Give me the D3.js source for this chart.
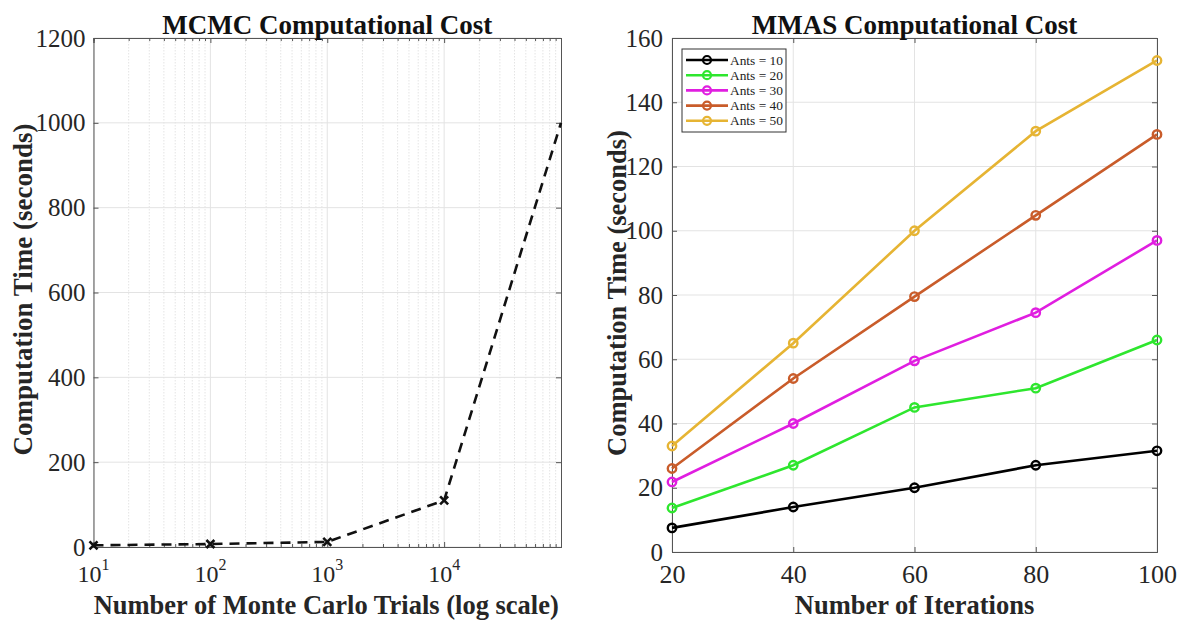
<!DOCTYPE html>
<html>
<head>
<meta charset="utf-8">
<script src="https://cdn.jsdelivr.net/npm/d3@7"></script>
<style>
  body { margin: 0; background: #fff; }
  svg text { font-family: "Liberation Serif", "Times New Roman", serif; }
</style>
</head>
<body>
<svg id="chart" width="1184" height="623"></svg>
<script>
// MCMC: Monte Carlo trials vs. computation time
const mcmcTrials = [10, 100, 1000, 10000, 100000];
const mcmcTime = [4, 7, 12, 110, 1000];
const mcmcYTicks = [0, 200, 400, 600, 800, 1000, 1200];
const mcmcXTicks = [10, 100, 1000, 10000];

// MMAS: iterations vs. computation time for several colony sizes
const iterations = [20, 40, 60, 80, 100];
const antCounts = [10, 20, 30, 40, 50];
const ants10 = [7.5, 14, 20, 27, 31.5];
const ants20 = [13.7, 27, 45, 51, 66];
const ants30 = [21.8, 40, 59.5, 74.5, 97];
const ants40 = [26, 54, 79.5, 104.8, 130];
const ants50 = [33, 65, 100, 131, 153];
const antColors = ["#000000", "#2ee62e", "#e01ee0", "#c95c2a", "#e6b433"];
const mmasYTicks = [0, 20, 40, 60, 80, 100, 120, 140, 160];

const svg = d3.select("#chart");
const serif = '"Liberation Serif", "Times New Roman", serif';
const tickColor = "#262626";
const gridColor = "#e3e3e3";

function styleAxis(g, size) {
  g.attr("font-family", serif);
  g.selectAll("path").attr("stroke", "#555").attr("stroke-width", 1);
  g.selectAll("line").attr("stroke", "#555");
  g.selectAll("text").attr("fill", tickColor).style("font-size", (size || 25) + "px")
    .style("font-family", serif);
}

// ---------- Left panel ----------
const L = { left: 93.5, right: 561, top: 38, bottom: 547 };
const xL = d3.scaleLog().domain([10, 100000]).range([L.left, L.right]);
const yL = d3.scaleLinear().domain([0, 1200]).range([L.bottom, L.top]);
const gL = svg.append("g");

// minor log grid (dotted)
const minorL = [];
for (let e = 1; e < 5; e++) for (let m = 2; m <= 9; m++) minorL.push(m * Math.pow(10, e));
gL.selectAll(".minor").data(minorL).join("line")
  .attr("x1", d => xL(d)).attr("x2", d => xL(d))
  .attr("y1", L.top).attr("y2", L.bottom)
  .attr("stroke", "#e4e4e4").attr("stroke-width", 1).attr("stroke-dasharray", "1.5,1.5");
// major grid
gL.selectAll(".vmaj").data(mcmcXTicks).join("line")
  .attr("x1", d => xL(d)).attr("x2", d => xL(d))
  .attr("y1", L.top).attr("y2", L.bottom)
  .attr("stroke", gridColor).attr("stroke-width", 1);
gL.selectAll(".hmaj").data(mcmcYTicks).join("line")
  .attr("x1", L.left).attr("x2", L.right)
  .attr("y1", d => yL(d)).attr("y2", d => yL(d))
  .attr("stroke", gridColor).attr("stroke-width", 1);

// axes (inward ticks, boxed)
gL.append("g").attr("transform", `translate(${L.left},0)`)
  .call(d3.axisLeft(yL).tickValues(mcmcYTicks).tickSize(-5).tickPadding(8).tickFormat(d3.format("d")))
  .call(styleAxis, 25);
gL.append("g").attr("transform", `translate(${L.right},0)`)
  .call(d3.axisRight(yL).tickValues(mcmcYTicks).tickSize(-5).tickFormat("")).call(styleAxis);
gL.append("g").attr("transform", `translate(0,${L.bottom})`)
  .call(d3.axisBottom(xL).tickValues(mcmcXTicks).tickSize(-5).tickFormat("")).call(styleAxis);
gL.append("g").attr("transform", `translate(0,${L.top})`)
  .call(d3.axisTop(xL).tickValues(mcmcXTicks).tickSize(-5).tickFormat("")).call(styleAxis);
gL.append("g").attr("transform", `translate(0,${L.bottom})`)
  .call(d3.axisBottom(xL).tickValues(minorL).tickSize(-3).tickFormat("")).call(styleAxis);
gL.append("g").attr("transform", `translate(0,${L.top})`)
  .call(d3.axisTop(xL).tickValues(minorL).tickSize(-3).tickFormat("")).call(styleAxis);

// x tick labels as powers of ten
const xLabels = gL.selectAll(".xlab").data(mcmcXTicks).join("text")
  .attr("x", d => xL(d)).attr("y", 582)
  .attr("text-anchor", "middle").attr("fill", tickColor)
  .style("font-size", "24px");
xLabels.append("tspan").text("10");
xLabels.append("tspan").attr("dy", -12).style("font-size", "16px").text(d => Math.round(Math.log10(d)));

// dashed series with x markers
gL.append("path").datum(mcmcTrials.map((t, i) => [t, mcmcTime[i]]))
  .attr("d", d3.line().x(d => xL(d[0])).y(d => yL(d[1])))
  .attr("fill", "none").attr("stroke", "#111").attr("stroke-width", 2.6)
  .attr("stroke-dasharray", "10,7");
const xm = 4;
gL.selectAll(".xmark").data(mcmcTrials.slice(0, 4).map((t, i) => [t, mcmcTime[i]])).join("path")
  .attr("d", d => {
    const cx = xL(d[0]), cy = yL(d[1]);
    return `M${cx - xm},${cy - xm}L${cx + xm},${cy + xm}M${cx - xm},${cy + xm}L${cx + xm},${cy - xm}`;
  })
  .attr("stroke", "#111").attr("stroke-width", 2.6);

gL.append("text").attr("x", (L.left + L.right) / 2).attr("y", 34)
  .attr("text-anchor", "middle").attr("font-weight", "bold").style("font-size", "27px")
  .attr("fill", "#111").text("MCMC Computational Cost");
gL.append("text").attr("x", (L.left + L.right) / 2 - 1).attr("y", 614)
  .attr("text-anchor", "middle").attr("font-weight", "bold").style("font-size", "26.5px")
  .attr("fill", "#262626").text("Number of Monte Carlo Trials (log scale)");
gL.append("text").attr("transform", `translate(32,${(L.top + L.bottom) / 2 - 3}) rotate(-90)`)
  .attr("text-anchor", "middle").attr("font-weight", "bold").style("font-size", "27px")
  .attr("fill", "#262626").text("Computation Time (seconds)");

// ---------- Right panel ----------
const R = { left: 672, right: 1157, top: 38, bottom: 552 };
const xR = d3.scaleLinear().domain([20, 100]).range([R.left, R.right]);
const yR = d3.scaleLinear().domain([0, 160]).range([R.bottom, R.top]);
const gR = svg.append("g");

gR.selectAll(".vg").data(iterations).join("line")
  .attr("x1", d => xR(d)).attr("x2", d => xR(d)).attr("y1", R.top).attr("y2", R.bottom)
  .attr("stroke", gridColor);
gR.selectAll(".hg").data(mmasYTicks).join("line")
  .attr("x1", R.left).attr("x2", R.right).attr("y1", d => yR(d)).attr("y2", d => yR(d))
  .attr("stroke", gridColor);

gR.append("g").attr("transform", `translate(${R.left},0)`)
  .call(d3.axisLeft(yR).tickValues(mmasYTicks).tickSize(-5).tickPadding(9)).call(styleAxis, 25);
gR.append("g").attr("transform", `translate(${R.right},0)`)
  .call(d3.axisRight(yR).tickValues(mmasYTicks).tickSize(-5).tickFormat("")).call(styleAxis);
gR.append("g").attr("transform", `translate(0,${R.bottom})`)
  .call(d3.axisBottom(xR).tickValues(iterations).tickSize(-5).tickPadding(13)).call(styleAxis, 26);
gR.append("g").attr("transform", `translate(0,${R.top})`)
  .call(d3.axisTop(xR).tickValues(iterations).tickSize(-5).tickFormat("")).call(styleAxis);

const seriesR = [ants10, ants20, ants30, ants40, ants50];
const lineR = d3.line().x((d, i) => xR(iterations[i])).y(d => yR(d));
seriesR.forEach((vals, s) => {
  gR.append("path").datum(vals).attr("d", lineR)
    .attr("fill", "none").attr("stroke", antColors[s]).attr("stroke-width", 2.6);
  gR.selectAll(`.m${s}`).data(vals).join("circle")
    .attr("cx", (d, i) => xR(iterations[i])).attr("cy", d => yR(d)).attr("r", 4.2)
    .attr("fill", "none").attr("stroke", antColors[s]).attr("stroke-width", 2.4);
});

gR.append("text").attr("x", (R.left + R.right) / 2).attr("y", 34)
  .attr("text-anchor", "middle").attr("font-weight", "bold").style("font-size", "27px")
  .attr("fill", "#111").text("MMAS Computational Cost");
gR.append("text").attr("x", (R.left + R.right) / 2).attr("y", 614)
  .attr("text-anchor", "middle").attr("font-weight", "bold").style("font-size", "26.5px")
  .attr("fill", "#262626").text("Number of Iterations");
gR.append("text").attr("transform", `translate(626,${(R.top + R.bottom) / 2 - 2}) rotate(-90)`)
  .attr("text-anchor", "middle").attr("font-weight", "bold").style("font-size", "26.5px")
  .attr("fill", "#262626").text("Computation Time (seconds)");

// legend
const lg = gR.append("g").attr("transform", "translate(682,49)");
lg.append("rect").attr("width", 104).attr("height", 83)
  .attr("fill", "#fff").attr("stroke", "#333").attr("stroke-width", 1);
antCounts.forEach((n, i) => {
  const y = 11 + i * 15.2;
  lg.append("line").attr("x1", 4).attr("x2", 46).attr("y1", y).attr("y2", y)
    .attr("stroke", antColors[i]).attr("stroke-width", 2.6);
  lg.append("circle").attr("cx", 25).attr("cy", y).attr("r", 4)
    .attr("fill", "none").attr("stroke", antColors[i]).attr("stroke-width", 2.2);
  lg.append("text").attr("x", 48).attr("y", y + 4.5).style("font-size", "13.4px")
    .attr("fill", "#222").text(`Ants = ${n}`);
});
</script>
</body>
</html>
